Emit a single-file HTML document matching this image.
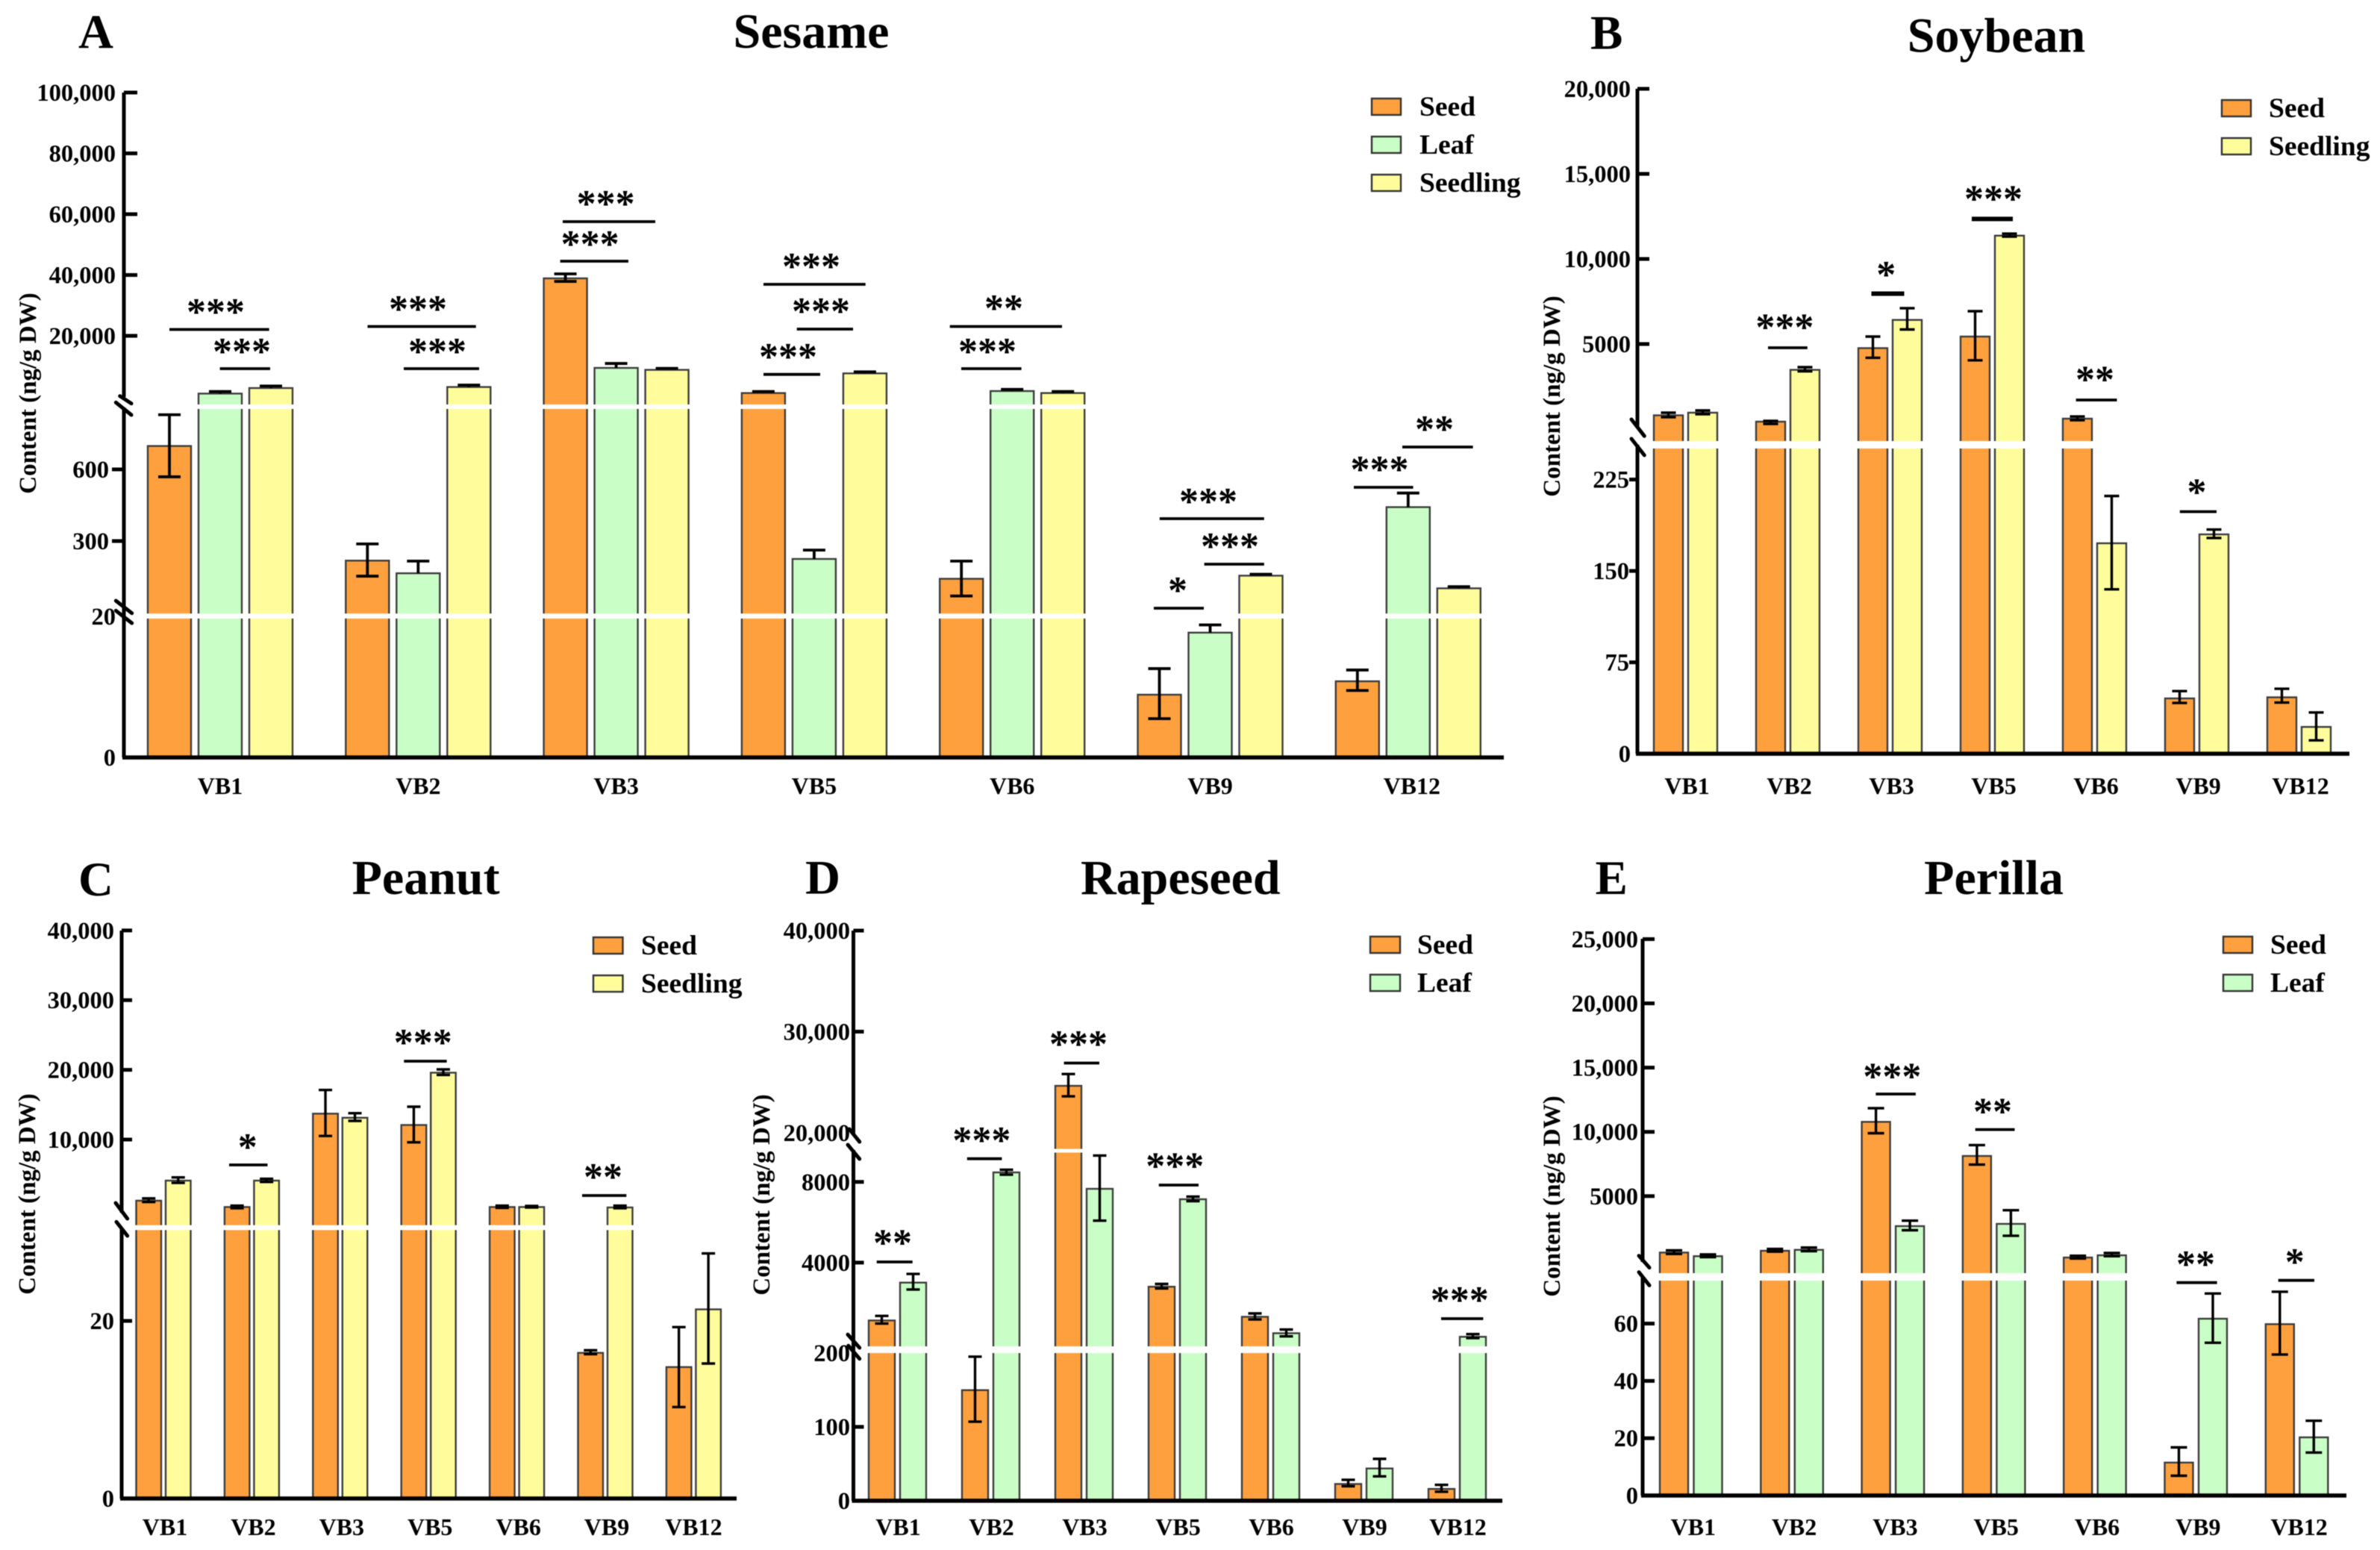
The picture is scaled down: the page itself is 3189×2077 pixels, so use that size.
<!DOCTYPE html>
<html lang="en">
<head>
<meta charset="utf-8">
<title>VB content in oil crops</title>
<style>
html,body{margin:0;padding:0;background:#fff;}
svg{display:block;filter:blur(0.5px);}
text{font-family:"Liberation Serif",serif;font-weight:bold;fill:#000;}
</style>
</head>
<body>
<svg id="chart" xmlns="http://www.w3.org/2000/svg" width="3189" height="2077" viewBox="0 0 3189 2077"></svg>
<script>
const categories = ['VB1','VB2','VB3','VB5','VB6','VB9','VB12'];

const sesameSeed     = [698,218,38900,1180,142,8.9,10.8];
const sesameSeedHi   = [829,288,40360,1670,216,12.6,12.4];
const sesameSeedLo   = [569,153,37900,1180,70,5.5,9.5];
const sesameLeaf     = [1006,165,9450,225,1840,17.7,442];
const sesameLeafHi   = [1669,216,10900,262,2380,18.8,501];
const sesameLeafLo   = [1006,165,9450,225,1840,17.7,442];
const sesameSeedling   = [2822,3166,8810,7650,1180,155,102];
const sesameSeedlingHi = [3500,3804,9300,8150,1670,161,109];
const sesameSeedlingLo = [2822,3166,8810,7650,1180,155,102];
const sesameTicks = [0,20,300,600,20000,40000,60000,80000,100000];
const sesameTickLabels = ['0','20','300','600','20,000','40,000','60,000','80,000','100,000'];

const soybeanSeed     = [811,438,4759,5439,614,45.4,46.3];
const soybeanSeedHi   = [965,482,5439,6930,745,51.4,53.3];
const soybeanSeedLo   = [700,307,4193,4044,526,41.7,42];
const soybeanSeedling   = [965,3482,6417,11370,172.7,180,22];
const soybeanSeedlingHi = [1096,3640,7105,11490,211.5,184,33.9];
const soybeanSeedlingLo = [877,3395,5855,11315,134.9,177,11];
const soybeanTicks = [0,75,150,225,5000,10000,15000,20000];
const soybeanTickLabels = ['0','75','150','225','5000','10,000','15,000','20,000'];

const peanutSeed     = [1231,321,13715,12088,321,16.4,14.8];
const peanutSeedHi   = [1563,514,17110,14711,514,16.7,19.3];
const peanutSeedLo   = [1039,150,10514,9604,193,16.26,10.3];
const peanutSeedling   = [4111,4111,13126,19593,321,257,21.3];
const peanutSeedlingHi = [4572,4368,13780,20064,471,514,27.6];
const peanutSeedlingLo = [3790,3920,12677,19272,257,150,15.2];
const peanutTicks = [0,20,10000,20000,30000,40000];
const peanutTickLabels = ['0','20','10,000','20,000','30,000','40,000'];

const rapeseedSeed   = [1132,149.7,24638,2804,1313,22.7,16];
const rapeseedSeedHi = [1358,195,25805,2941,1480,28.3,21.5];
const rapeseedSeedLo = [977,107,23600,2716,1184,19.7,12.2];
const rapeseedLeaf   = [3008,8472,7658,7140,499,43.7,322];
const rapeseedLeafHi = [3440,8605,9308,7273,681,56.7,455];
const rapeseedLeafLo = [2667,8360,6079,7048,344,33,259];
const rapeseedTicks = [0,100,200,4000,8000,20000,30000,40000];
const rapeseedTickLabels = ['0','100','200','4000','8000','20,000','30,000','40,000'];

const perillaSeed   = [610,749,10778,8124,221,11.5,59.8];
const perillaSeedHi = [784,888,11841,8972,360,16.8,71.1];
const perillaSeedLo = [499,679,9895,7450,145,6.9,49.2];
const perillaLeaf   = [325,819,2665,2840,395,61.7,20.3];
const perillaLeafHi = [465,999,3089,3902,575,70.5,26.1];
const perillaLeafLo = [256,714,2346,1916,325,53.3,15];
const perillaTicks = [0,20,40,60,5000,10000,15000,20000,25000];
const perillaTickLabels = ['0','20','40','60','5000','10,000','15,000','20,000','25,000'];

const ORANGE = '#FFA03E', GREEN = '#C9FFC6', YELLOW = '#FFFD9B', EDGE = '#3c3c3c';

// Panel layout: scale segments, axis geometry and annotations. Values come from the arrays above.
const panels = [
 {id:'sesame',letter:'A',letterX:105,letterY:64,title:'Sesame',titleX:1087,titleY:64,
  axisX:166,axisEnd:2015,baseY:1015,
  segs:[{max:20,a:1015,b:9.45},{max:862,a:821,b:.32},{max:Infinity,a:531.5,b:.004075}],
  x0:197,pitch:265.3,barW:60,step:68,cap:30,errW:3.8,labelDx:0,lastLabelDx:5,labelY:1064,
  ticks:sesameTicks,tickLabels:sesameTickLabels,noMark:[0,20],leftMax:600,leftLen:16,rightLen:18,
  labelRight:155,labelRightLeft:146,
  axisTitleX:48,axisTitleY:527,
  axisParts:[[124,532],[546,1015]],
  bands:[[545,6],[825.5,6.7]],
  slashes:[[160.7,530.7,176,540.7],[155.3,539.3,176,556],[155.3,805,176.7,821.7],[155.3,818.3,176.7,835]],
  series:[{name:'Seed',fill:ORANGE,vals:sesameSeed,hi:sesameSeedHi,lo:sesameSeedLo},
          {name:'Leaf',fill:GREEN,vals:sesameLeaf,hi:sesameLeafHi,lo:sesameLeafLo},
          {name:'Seedling',fill:YELLOW,vals:sesameSeedling,hi:sesameSeedlingHi,lo:sesameSeedlingLo}],
  legend:{x:1837,w:41,h:24,tops:[131,182,233],textX:1902},
  sig:[['***',289,413,227,360.6,441.5],['***',324,466,294.6,362,494],
       ['***',560,409,492.5,637.7,437.5],['***',586,466,541,642,494],
       ['***',790.6,322,750.6,842,350],['***',811.6,268,754,878,297],
       ['***',1087,352,1023,1159.7,381],['***',1100,412,1067.7,1143,441],['***',1056,473,1023,1099,501.7],
       ['**',1345,408,1272.7,1423,437.5],['***',1323,466,1288,1368.6,494],
       ['***',1619,667,1553.8,1693.8,695],['***',1648,727,1613.6,1693.8,756],['*',1578,786,1546,1613,815],
       ['***',1848.5,624,1814,1893.5,653],['**',1922,570,1879,1973.6,599]],sigW:3.8},
 {id:'soybean',letter:'B',letterX:2131,letterY:65.6,title:'Soybean',titleX:2675,titleY:69.6,
  axisX:2194,axisEnd:3148,baseY:1010,
  segs:[{max:250,a:1010,b:1.633},{max:Infinity,a:575,b:.0228}],
  x0:2215,pitch:137,barW:41,step:46,cap:20,errW:3.4,labelDx:2,lastLabelDx:2,labelY:1064,
  ticks:soybeanTicks,tickLabels:soybeanTickLabels,noMark:[0],leftMax:225,leftLen:11,rightLen:16,
  labelRight:2185,labelRightLeft:2183,
  axisTitleX:2090,axisTitleY:531,
  axisParts:[[119,572],[596,1010]],
  bands:[[596,10]],
  slashes:[[2186,562,2203.3,584.3],[2186,588,2203.3,610]],
  series:[{name:'Seed',fill:ORANGE,vals:soybeanSeed,hi:soybeanSeedHi,lo:soybeanSeedLo},
          {name:'Seedling',fill:YELLOW,vals:soybeanSeedling,hi:soybeanSeedlingHi,lo:soybeanSeedlingLo}],
  legend:{x:2976,w:41,h:24,tops:[133,184],textX:3040},
  sig:[['***',2391.4,433.4,2369,2421.8,466,3.8],['*',2527.3,363,2507.5,2551.5,393.5,6],
       ['***',2671,261.7,2642,2697,293.4,6],['**',2807,503.7,2781.6,2836.5,536,3.8],
       ['*',2943.5,654.5,2920.8,2970,685.6,3.8]],sigW:3.8},
 {id:'peanut',letter:'C',letterX:105,letterY:1200,title:'Peanut',titleX:570.6,titleY:1198,
  axisX:163,axisEnd:987,baseY:2008,
  segs:[{max:30.3,a:2008,b:11.9},{max:Infinity,a:1620.4,b:.00934}],
  x0:181.5,pitch:118.4,barW:35.5,step:39.5,cap:18,errW:3.4,labelDx:2,lastLabelDx:0,labelY:2057,
  ticks:peanutTicks,tickLabels:peanutTickLabels,noMark:[0],leftMax:-1,leftLen:0,rightLen:14,
  labelRight:153,labelRightLeft:153,
  axisTitleX:47,axisTitleY:1600,
  axisParts:[[1247,1625],[1646,2008]],
  bands:[[1645,6.6]],
  slashes:[[155,1612,170.7,1633],[156,1637.3,170.7,1656]],
  series:[{name:'Seed',fill:ORANGE,vals:peanutSeed,hi:peanutSeedHi,lo:peanutSeedLo},
          {name:'Seedling',fill:YELLOW,vals:peanutSeedling,hi:peanutSeedlingHi,lo:peanutSeedlingLo}],
  legend:{x:794,w:41.5,h:24,tops:[1255,1306],textX:859},
  sig:[['*',331.8,1532,307,358.5,1561],['***',566.7,1392,541.3,598.6,1422],['**',808,1572,780,839.3,1602]],sigW:3.8},
 {id:'rapeseed',letter:'D',letterX:1079,letterY:1197.5,title:'Rapeseed',titleX:1581.8,titleY:1198,
  axisX:1143.5,axisEnd:2013,baseY:2011,
  segs:[{max:200,a:2011,b:.99},{max:9545,a:1800,b:.02703},{max:Infinity,a:1788.6,b:.01354}],
  x0:1163,pitch:125,barW:37,step:42,cap:18,errW:3.4,labelDx:1,lastLabelDx:1,labelY:2057,
  ticks:rapeseedTicks,tickLabels:rapeseedTickLabels,noMark:[0,200,20000],leftMax:-1,leftLen:0,rightLen:14,
  labelRight:1139,labelRightLeft:1139,
  axisTitleX:1031,axisTitleY:1601,
  axisParts:[[1247,1520],[1541,2011]],
  bands:[[1542,5],[1808.6,9]],
  slashes:[[1138,1513,1151.7,1530],[1136,1534,1151.7,1553],[1136,1788.3,1151.7,1806],[1136.7,1803.3,1151.7,1820.7]],
  series:[{name:'Seed',fill:ORANGE,vals:rapeseedSeed,hi:rapeseedSeedHi,lo:rapeseedSeedLo},
          {name:'Leaf',fill:GREEN,vals:rapeseedLeaf,hi:rapeseedLeafHi,lo:rapeseedLeafLo}],
  legend:{x:1835,w:42,h:24,tops:[1254,1305],textX:1899},
  sig:[['**',1196,1660.7,1174.7,1222.7,1691],['***',1315.4,1522.8,1295.8,1342.4,1552.7],
       ['***',1445,1394,1425.6,1473,1424.5],['***',1574.3,1557.6,1552.7,1606,1588],
       ['***',1955.7,1737,1931,1987.4,1767]],sigW:3.8},
 {id:'perilla',letter:'E',letterX:2137.5,letterY:1198,title:'Perilla',titleX:2671.6,titleY:1198,
  axisX:2201,axisEnd:3144,baseY:2004,
  segs:[{max:75,a:2004,b:3.84},{max:Infinity,a:1688.9,b:.01722}],
  x0:2223,pitch:135.3,barW:40,step:45.5,cap:22,errW:3.4,labelDx:3,lastLabelDx:3,labelY:2057,
  ticks:perillaTicks,tickLabels:perillaTickLabels,noMark:[0],leftMax:-1,leftLen:0,rightLen:16,
  labelRight:2195,labelRightLeft:2195,
  axisTitleX:2090,axisTitleY:1603,
  axisParts:[[1258,1691],[1712,2004]],
  bands:[[1711,10]],
  slashes:[[2196,1682.7,2210,1698.6],[2196,1704.7,2210,1722.4]],
  series:[{name:'Seed',fill:ORANGE,vals:perillaSeed,hi:perillaSeedHi,lo:perillaSeedLo},
          {name:'Leaf',fill:GREEN,vals:perillaLeaf,hi:perillaLeafHi,lo:perillaLeafLo}],
  legend:{x:2978,w:41,h:24,tops:[1254,1305],textX:3042},
  sig:[['***',2535.4,1437.4,2513.4,2566.9,1466],['**',2670,1484.4,2646.7,2699.5,1513.6],
       ['**',2942,1688.8,2916.4,2970.6,1718.7],['*',3074.7,1685.8,3052.7,3101,1715.7]],sigW:3.8}
];

const NS = 'http://www.w3.org/2000/svg';
const root = document.getElementById('chart');

function mk(parent, tag, attrs, content) {
  const e = document.createElementNS(NS, tag);
  for (const k in attrs) e.setAttribute(k, attrs[k]);
  if (content !== undefined) e.textContent = content;
  parent.appendChild(e);
  return e;
}

function yScale(panel) {
  return function (v) {
    for (const s of panel.segs) {
      if (v <= s.max) return s.a - s.b * v;
    }
    return panel.baseY;
  };
}

function barX(p, catIndex, seriesIndex) {
  return p.x0 + catIndex * p.pitch + seriesIndex * p.step;
}

panels.forEach(function (p) {
  const y = yScale(p);
  const g = mk(root, 'g', {});
  
  

  const letter = mk(g, 'text', {x:p.letterX, y:p.letterY, 'font-size':65}, p.letter);
  
  

  const title = mk(g, 'text', {x:p.titleX, y:p.titleY, 'font-size':66, 'text-anchor':'middle'}, p.title);
  
  

  const axisTitle = mk(g, 'text', {x:p.axisTitleX, y:p.axisTitleY, 'font-size':33, 'text-anchor':'middle',
    transform:'rotate(-90 ' + p.axisTitleX + ' ' + p.axisTitleY + ')'}, 'Content (ng/g DW)');
  
  

  // bars
  p.series.forEach(function (s, si) {
    s.vals.forEach(function (v, ci) {
      const top = y(v);
      const r = mk(g, 'rect', {x:barX(p,ci,si)+1, y:top, width:p.barW-2, height:p.baseY-top,
        fill:s.fill, stroke:EDGE, 'stroke-width':2.4});
      
      
    });
  });

  // white axis-break bands
  p.bands.forEach(function (b) {
    const band = mk(g, 'rect', {x:p.axisX+3, y:b[0]-b[1]/2, width:p.axisEnd-p.axisX-3, height:b[1], fill:'#fff'});
    
    
  });

  // error bars
  p.series.forEach(function (s, si) {
    s.vals.forEach(function (v, ci) {
      const cx = barX(p,ci,si) + p.barW/2;
      const eg = mk(g, 'g', {stroke:'#000', 'stroke-width':p.errW, fill:'none'});
      
      
      const yHi = y(s.hi[ci]), yLo = y(s.lo[ci]);
      mk(eg, 'line', {x1:cx, x2:cx, y1:yHi, y2:yLo});
      mk(eg, 'line', {x1:cx-p.cap/2, x2:cx+p.cap/2, y1:yHi, y2:yHi});
      if (s.lo[ci] < v) mk(eg, 'line', {x1:cx-p.cap/2, x2:cx+p.cap/2, y1:yLo, y2:yLo});
    });
  });

  // axes
  const axisG = mk(g, 'g', {stroke:'#000', 'stroke-width':5, fill:'none'});
  
  
  p.axisParts.forEach(function (a) {
    mk(axisG, 'line', {x1:p.axisX, x2:p.axisX, y1:a[0], y2:a[1]});
  });
  p.slashes.forEach(function (l) {
    mk(axisG, 'line', {x1:l[0], y1:l[1], x2:l[2], y2:l[3], 'stroke-linecap':'round'});
  });
  const xAxis = mk(g, 'line', {x1:p.axisX-2, x2:p.axisEnd, y1:p.baseY, y2:p.baseY, stroke:'#000', 'stroke-width':5.5});
  
  

  // y ticks and labels
  p.ticks.forEach(function (t, i) {
    const ty = y(t);
    const left = t <= p.leftMax && t > 20;
    if (p.noMark.indexOf(t) < 0) {
      const tick = mk(g, 'line', {x1:p.axisX, x2:left ? p.axisX-p.leftLen : p.axisX+p.rightLen, y1:ty, y2:ty, stroke:'#000', 'stroke-width':5});
      
      
    }
    const lab = mk(g, 'text', {x:left ? p.labelRightLeft : p.labelRight, y:ty+11, 'font-size':32.5, 'text-anchor':'end'}, p.tickLabels[i]);
    
    
  });

  // x labels
  const groupW = p.step*(p.series.length-1) + p.barW;
  categories.forEach(function (c, i) {
    const dx = i === categories.length-1 ? p.lastLabelDx : p.labelDx;
    const lab = mk(g, 'text', {x:p.x0 + i*p.pitch + groupW/2 + dx, y:p.labelY, 'font-size':32, 'text-anchor':'middle'}, c);
    
    
  });

  // legend
  p.series.forEach(function (s, i) {
    const lg = mk(g, 'g', {});
    
    
    const top = p.legend.tops[i];
    mk(lg, 'rect', {x:p.legend.x+1, y:top+1, width:p.legend.w-2, height:p.legend.h-2, fill:s.fill, stroke:'#333', 'stroke-width':2.4});
    mk(lg, 'text', {x:p.legend.textX, y:top+p.legend.h, 'font-size':37.5}, s.name);
  });

  // significance annotations
  p.sig.forEach(function (a) {
    const sg = mk(g, 'g', {});
    
    
    mk(sg, 'text', {x:a[1], y:a[2]+22, 'font-size':52, 'text-anchor':'middle'}, a[0]);
    mk(sg, 'line', {x1:a[3], x2:a[4], y1:a[5], y2:a[5], stroke:'#000', 'stroke-width':a[6] || p.sigW});
  });
});
</script>
</body>
</html>
